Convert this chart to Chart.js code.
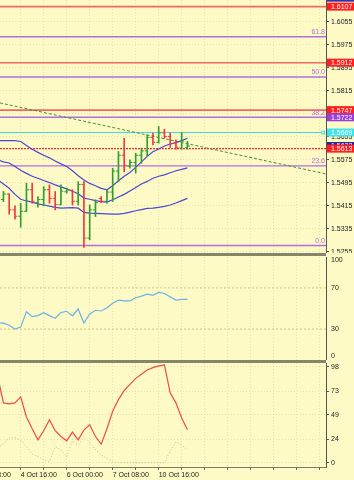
<!DOCTYPE html>
<html>
<head>
<meta charset="utf-8">
<script src="https://cdn.jsdelivr.net/npm/chart.js@4.4.0/dist/chart.umd.min.js"></script>
<style>
  html, body { margin: 0; padding: 0; background: #fdfac6; }
  #wrap { position: relative; width: 354px; height: 480px; overflow: hidden; }
  .pane { position: absolute; left: 0; width: 354px; }
  .sep { position: absolute; left: 0; width: 326px; height: 3px; background: #85856e; }
</style>
</head>
<body>
<div id="wrap">
  <div class="pane" style="top:0;height:253px"><canvas id="priceChart" width="354" height="253"></canvas></div>
  <div class="pane" style="top:253px;height:107px"><canvas id="rsiChart" width="354" height="107"></canvas></div>
  <div class="pane" style="top:360px;height:120px"><canvas id="stochChart" width="354" height="120"></canvas></div>
  <div class="sep" style="top:253px"></div>
  <div class="sep" style="top:360px"></div>
</div>
<script>
"use strict";

// H4 bars, first one sits just left of the visible area
const open  = [1.5445, 1.5436, 1.5455, 1.5400, 1.5378, 1.5395, 1.5470, 1.5425, 1.5436, 1.5470, 1.5440, 1.5418, 1.5463, 1.5468, 1.5430, 1.5488, 1.5302,
               1.5400, 1.5440, 1.5430, 1.5462, 1.5535, 1.5590, 1.5552, 1.5565, 1.5590, 1.5605, 1.5652, 1.5635, 1.5668, 1.5655, 1.5632, 1.5615, 1.5616];
const high  = [1.5470, 1.5464, 1.5456, 1.5414, 1.5423, 1.5493, 1.5493, 1.5446, 1.5481, 1.5487, 1.5464, 1.5487, 1.5476, 1.5470, 1.5498, 1.5498, 1.5417,
               1.5435, 1.5446, 1.5470, 1.5545, 1.5603, 1.5649, 1.5574, 1.5597, 1.5615, 1.5661, 1.5667, 1.5690, 1.5681, 1.5667, 1.5644, 1.5669, 1.5638];
const low   = [1.5420, 1.5429, 1.5385, 1.5368, 1.5340, 1.5394, 1.5423, 1.5409, 1.5414, 1.5423, 1.5400, 1.5417, 1.5458, 1.5417, 1.5417, 1.5269, 1.5296,
               1.5377, 1.5425, 1.5423, 1.5429, 1.5498, 1.5533, 1.5545, 1.5528, 1.5562, 1.5585, 1.5626, 1.5632, 1.5649, 1.5618, 1.5611, 1.5611, 1.5611];
const close = [1.5436, 1.5455, 1.5400, 1.5378, 1.5395, 1.5470, 1.5430, 1.5436, 1.5470, 1.5440, 1.5418, 1.5465, 1.5470, 1.5430, 1.5488, 1.5302, 1.5400,
               1.5425, 1.5430, 1.5462, 1.5535, 1.5590, 1.5555, 1.5565, 1.5590, 1.5605, 1.5652, 1.5635, 1.5668, 1.5655, 1.5630, 1.5618, 1.5640, 1.5622];

// bollinger bands
const bbUpper = [1.5641, 1.5641, 1.5641, 1.5641, 1.5638, 1.5624, 1.5611, 1.5600, 1.5590, 1.5581, 1.5570, 1.5560, 1.5551, 1.5536, 1.5519, 1.5504, 1.5492,
                 1.5484, 1.5475, 1.5470, 1.5484, 1.5501, 1.5517, 1.5530, 1.5548, 1.5567, 1.5586, 1.5602, 1.5612, 1.5622, 1.5629, 1.5634, 1.5641, 1.5649];
const bbMiddle = [1.5574, 1.5567, 1.5563, 1.5551, 1.5538, 1.5527, 1.5517, 1.5510, 1.5502, 1.5495, 1.5487, 1.5480, 1.5473, 1.5465, 1.5456, 1.5441, 1.5437,
                  1.5432, 1.5429, 1.5427, 1.5435, 1.5445, 1.5454, 1.5466, 1.5478, 1.5490, 1.5499, 1.5510, 1.5517, 1.5522, 1.5529, 1.5536, 1.5541, 1.5546];
const bbLower = [1.5504, 1.5490, 1.5475, 1.5454, 1.5437, 1.5431, 1.5427, 1.5421, 1.5417, 1.5413, 1.5409, 1.5406, 1.5407, 1.5408, 1.5406, 1.5391, 1.5389,
                 1.5388, 1.5387, 1.5386, 1.5385, 1.5385, 1.5388, 1.5392, 1.5397, 1.5401, 1.5405, 1.5406, 1.5409, 1.5412, 1.5417, 1.5424, 1.5432, 1.5440];

const rsi = [36.3, 35.8, 33.8, 30.0, 31.9, 46.9, 42.1, 43.1, 46.0, 43.1, 40.5, 46.0, 47.3, 42.8, 49.5, 35.8, 44.7,
             48.3, 47.6, 50.8, 55.0, 58.2, 57.5, 57.5, 60.4, 62.0, 63.9, 62.7, 65.9, 64.6, 61.3, 58.2, 58.8, 58.8];
const stochMain = [88.0, 61.2, 60.2, 61.2, 67.4, 46.8, 34.7, 23.4, 32.7, 44.0, 32.7, 26.8, 22.4, 31.3, 23.4, 33.4, 38.9,
                   26.8, 19.0, 34.7, 52.6, 64.6, 73.9, 80.1, 86.3, 90.4, 94.8, 97.3, 99.0, 100.0, 71.5, 61.2, 45.8, 33.7];
const stochSignal = [14.9, 20.0, 25.1, 25.8, 22.4, 16.5, 8.6, 6.2, 2.8, 1.2, 16.5, 13.1, 6.2, 22.4, 18.3, 26.9, 21.0,
                     13.1, 8.2, 4.2, 1.2, 0, 0, 0, 0, 0, 0, 0, 0, 0, 11.9, 21.0, 18.3, 13.1];

// horizontal objects on the price pane
const redLevels = [1.6107, 1.5912, 1.5747];
const dottedLevel = 1.5613;
const cyanLevel = 1.5669;
const bidPrice = 1.5622;
const askTop = 1.6138;
const fibPrices = [1.5276, 1.5553, 1.5722, 1.5862, 1.6002];
const fibNames = ['0.0', '23.6', '38.2', '50.0', '61.8'];
const trendStart = 1.5772;
const trendEnd = 1.5525;

// axes
const priceTicks = [1.6055, 1.5975, 1.5895, 1.5815, 1.5735, 1.5655, 1.5575, 1.5495, 1.5415, 1.5335, 1.5255];
// the terminal keeps the 0 and 100 labels inside the pane
const rsiTickAt = [3.4, 30, 70, 96.6];
const rsiTickText = ['0', '30', '70', '100'];
const rsiLevels = [30, 70];
const stochTicks = [0, 24, 49, 73, 98];
const gridBars = [-5, -1, 3, 7, 11, 15, 19, 23, 27, 31, 35, 39, 43, 47, 51, 55];
const tickBars = [-5, 3, 11, 19, 27];
const tickLabels = ['3 Oct 08:00', '4 Oct 16:00', '6 Oct 00:00', '7 Oct 08:00', '10 Oct 16:00'];

const X_MIN = -0.6, X_MAX = 56.1;
const UP = '#2f9f2f', DOWN = '#ee3b3b';
const GRID = 'rgba(150, 145, 100, 0.22)';
const FIB = '#b36ddf';
const FONT = { family: 'Liberation Sans', size: 7 };
// tiny line height keeps the y labels from padding the plot area
const YFONT = { family: 'Liberation Sans', size: 7, lineHeight: 0.01 };

const idx = close.map((_, k) => k - 1);
const barColor = close.map((c, k) => c >= open[k] ? UP : DOWN);
const pts = arr => arr.map((v, k) => ({ x: idx[k], y: v }));
const flat = v => [{ x: X_MIN, y: v }, { x: X_MAX, y: v }];

function xAxis(showLabels) {
    return {
        type: 'linear', min: X_MIN, max: X_MAX, offset: false,
        afterBuildTicks: s => { s.ticks = gridBars.map(v => ({ value: v })); },
        afterFit: s => { s.height = showLabels ? 13 : 0; s.paddingLeft = 0; s.paddingRight = 0; },
        grid: { color: GRID, offset: false, drawTicks: showLabels, tickLength: 3, tickColor: '#666', tickBorderDash: [] },
        border: { display: showLabels, color: '#7a7a6a', dash: [1, 2] },
        ticks: {
            display: showLabels, autoSkip: false, maxRotation: 0, align: 'start', padding: 1,
            font: FONT, color: '#222',
            callback: v => { const k = tickBars.indexOf(v); return k < 0 ? '' : tickLabels[k]; }
        }
    };
}

function yAxis(min, max, ticks, fmt, showGrid) {
    return {
        position: 'right', min: min, max: max,
        afterBuildTicks: s => { s.ticks = ticks.map(v => ({ value: v })); },
        afterFit: s => { s.width = 28; s.paddingTop = 0; s.paddingBottom = 0; },
        grid: { display: true, color: showGrid ? GRID : 'rgba(0,0,0,0)', tickLength: 3,
                tickColor: showGrid ? '#555' : 'rgba(0,0,0,0)', tickBorderDash: [] },
        border: { color: '#555', dash: [1, 2] },
        ticks: { autoSkip: false, padding: 2, font: YFONT, color: '#222', callback: fmt }
    };
}

const baseOptions = {
    responsive: false,
    animation: false,
    events: [],
    plugins: { legend: { display: false }, tooltip: { enabled: false } }
};

const lineSet = (data, color, width, extra) => Object.assign({
    type: 'line', data: data, borderColor: color, borderWidth: width,
    pointRadius: 0, pointHoverRadius: 0, tension: 0, fill: false
}, extra || {});

/* price pane labels: fib names and value boxes on the axis */
const priceLabels = {
    id: 'priceLabels',
    afterDraw(chart) {
        const ctx = chart.ctx, y = chart.scales.y, area = chart.chartArea;
        ctx.save();
        ctx.font = '7px "Liberation Sans"';
        ctx.fillStyle = FIB;
        ctx.textAlign = 'right';
        ctx.textBaseline = 'bottom';
        fibPrices.forEach((p, k) => ctx.fillText(fibNames[k], area.right - 1, y.getPixelForValue(p) - 1));

        const boxes = [
            [askTop, '#3b2fa6', askTop.toFixed(4)],
            ...redLevels.map(v => [v, '#ff1f1f', v.toFixed(4)]),
            [fibPrices[2], '#9b3fd6', fibPrices[2].toFixed(4)],
            [cyanLevel, '#3fe3ea', cyanLevel.toFixed(4)],
            [bidPrice, '#26209a', bidPrice.toFixed(4)],
            [dottedLevel, '#ff1f1f', dottedLevel.toFixed(4)]
        ];
        ctx.textAlign = 'left';
        ctx.textBaseline = 'middle';
        boxes.forEach(b => {
            const py = y.getPixelForValue(b[0]);
            ctx.fillStyle = b[1];
            ctx.fillRect(area.right + 1, py - 4, chart.width - area.right - 1, 8);
            ctx.fillStyle = '#ffffff';
            ctx.fillText(b[2], area.right + 5, py + 0.5);
        });
        ctx.restore();
    }
};

/* Price chart */
new Chart(document.getElementById('priceChart'), {
    type: 'line',
    data: {
        datasets: [
            { type: 'bar', order: 1, data: idx.map((x, k) => ({ x: x, y: [low[k], high[k]] })),
              backgroundColor: barColor, barThickness: 1, borderWidth: 0 },
            { type: 'line', order: 0, showLine: false, data: idx.map((x, k) => ({ x: x - 0.22, y: open[k] })),
              pointStyle: 'line', pointRadius: 1.2, pointHoverRadius: 0, pointBorderWidth: 1, pointBorderColor: barColor },
            { type: 'line', order: 0, showLine: false, data: idx.map((x, k) => ({ x: x + 0.22, y: close[k] })),
              pointStyle: 'line', pointRadius: 1.2, pointHoverRadius: 0, pointBorderWidth: 1, pointBorderColor: barColor },
            lineSet(pts(bbUpper), '#4a48d4', 1.2, { order: 2 }),
            lineSet(pts(bbMiddle), '#4a48d4', 1.2, { order: 2 }),
            lineSet(pts(bbLower), '#4a48d4', 1.2, { order: 2 }),
            lineSet([{ x: X_MIN, y: trendStart }, { x: X_MAX, y: trendEnd }], '#3f8f3f', 1, { order: 3, borderDash: [3, 2] }),
            ...redLevels.map(v => lineSet(flat(v), '#f26a5c', 1.6, { order: 4 })),
            lineSet(flat(dottedLevel), '#e83030', 1.2, { order: 4, borderDash: [2, 1] }),
            ...fibPrices.map(v => lineSet(flat(v), FIB, 1.4, { order: 4 })),
            lineSet([{ x: X_MIN, y: cyanLevel }, { x: X_MAX - 0.5, y: cyanLevel }], '#3fd9e0', 1,
                    { order: 4, pointRadius: [0, 2], pointStyle: 'rect', pointBorderColor: '#3fd9e0', pointBackgroundColor: '#fdfac6', pointBorderWidth: 1 })
        ]
    },
    options: Object.assign({}, baseOptions, {
        layout: { autoPadding: false, padding: 0 },
        scales: {
            x: xAxis(false),
            y: yAxis(1.5250, 1.6130, priceTicks, v => v.toFixed(4), true)
        }
    }),
    plugins: [priceLabels]
});

/* RSI */
new Chart(document.getElementById('rsiChart'), {
    type: 'line',
    data: {
        datasets: [
            lineSet(pts(rsi), '#6cb3ea', 1.2, { order: 0 }),
            ...rsiLevels.map(v => lineSet(flat(v), '#d8c27c', 1, { order: 1, borderDash: [2, 2] }))
        ]
    },
    options: Object.assign({}, baseOptions, {
        layout: { autoPadding: false, padding: { top: 4 } },
        scales: {
            x: xAxis(false),
            y: yAxis(0, 100, rsiTickAt, v => rsiTickText[rsiTickAt.indexOf(v)], false)
        }
    })
});

/* Stochastic */
new Chart(document.getElementById('stochChart'), {
    type: 'line',
    data: {
        datasets: [
            lineSet(pts(stochMain), '#ef4a4a', 1.2, { order: 0 }),
            lineSet(pts(stochSignal), 'rgba(170, 165, 140, 0.7)', 1, { order: 1, borderDash: [1, 2] })
        ]
    },
    options: Object.assign({}, baseOptions, {
        layout: { autoPadding: false, padding: { top: 3 } },
        scales: {
            x: xAxis(true),
            y: yAxis(-4.4, 102, stochTicks, v => String(v), true)
        }
    })
});
</script>
</body>
</html>
